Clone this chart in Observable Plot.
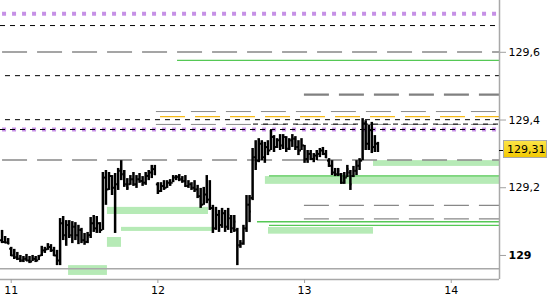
<!DOCTYPE html>
<html><head><meta charset="utf-8">
<script src="https://cdn.jsdelivr.net/npm/d3@7"></script>
<script src="https://cdn.jsdelivr.net/npm/@observablehq/plot@0.6"></script>
<style>html,body{margin:0;padding:0;background:#fff}#chart{width:550px;height:300px}</style>
</head><body><div id="chart"></div>
<script>
// ---- axis ticks ----
const dayTicks = [11, 12, 13, 14];
const priceTicks = [129.2, 129.4, 129.6];
const priceTicksBold = [129];
const xMin = 10.927, xMax = 14.329;
const yMin = 128.929, yMax = 129.753;

// ---- 30-minute OHLC bars ----
const firstBar = 10.9375;
const barMinutes = 30;
const hi = [
129.074,129.056,129.050,129.024,129.018,129.009,129.000,128.997,129.003,128.997,
129.000,128.997,129.000,129.027,129.024,129.035,129.032,129.024,129.015,129.109,
129.115,129.103,129.103,129.100,129.097,129.089,129.080,129.065,129.068,129.112,
129.118,129.115,129.097,129.245,129.251,129.245,129.236,129.242,129.257,129.280,
129.251,129.227,129.236,129.245,129.236,129.242,129.233,129.245,129.251,129.266,
129.266,129.215,129.215,129.221,129.221,129.224,129.236,129.236,129.239,129.233,
129.236,129.221,129.215,129.221,129.207,129.198,129.201,129.236,129.221,129.148,
129.142,129.133,129.139,129.133,129.139,129.118,129.118,129.080,129.044,129.089,
129.177,129.177,129.316,129.339,129.345,129.339,129.334,129.339,129.369,129.354,
129.345,129.357,129.357,129.351,129.345,129.357,129.351,129.339,129.345,129.325,
129.310,129.310,129.301,129.310,129.316,129.319,129.310,129.286,129.280,129.257,
129.257,129.242,129.245,129.266,129.251,129.263,129.280,129.286,129.404,129.398,
129.384,129.393,129.354,129.334];
const lo = [
129.035,129.035,129.032,128.997,128.988,128.985,128.979,128.979,128.982,128.976,
128.982,128.979,128.985,128.997,129.006,129.015,129.009,128.997,128.970,128.970,
129.044,129.027,129.050,129.035,129.044,129.032,129.035,129.030,129.035,129.050,
129.068,129.065,129.065,129.074,129.148,129.192,129.177,129.065,129.192,129.221,
129.201,129.192,129.207,129.204,129.198,129.213,129.204,129.207,129.221,129.227,
129.236,129.180,129.186,129.192,129.198,129.204,129.215,129.221,129.218,129.213,
129.201,129.198,129.192,129.186,129.168,129.139,129.148,129.153,129.133,129.065,
129.074,129.068,129.080,129.068,129.074,129.065,129.068,128.970,129.021,129.030,
129.068,129.097,129.162,129.251,129.274,129.280,129.272,129.295,129.310,129.304,
129.316,129.310,129.313,129.304,129.310,129.319,129.310,129.295,129.310,129.272,
129.272,129.280,129.274,129.280,129.289,129.295,129.286,129.260,129.236,129.233,
129.233,129.210,129.210,129.230,129.192,129.230,129.236,129.251,129.280,129.310,
129.310,129.301,129.304,129.304];
const op = [
129.045,129.040,129.038,129.020,129.000,128.995,128.990,128.985,128.990,128.985,
128.982,128.990,128.985,129.000,129.015,129.018,129.025,129.015,129.000,128.985,
129.095,129.060,129.090,129.060,129.085,129.060,129.075,129.045,129.040,129.060,
129.095,129.080,129.095,129.075,129.230,129.195,129.235,129.200,129.210,129.250,
129.240,129.210,129.210,129.225,129.210,129.225,129.220,129.215,129.235,129.245,
129.255,129.210,129.190,129.205,129.200,129.215,129.215,129.230,129.232,129.225,
129.220,129.205,129.210,129.200,129.195,129.175,129.150,129.180,129.165,129.140,
129.080,129.120,129.090,129.125,129.085,129.110,129.080,129.075,129.030,129.035,
129.080,129.150,129.170,129.290,129.280,129.330,129.290,129.320,129.310,129.350,
129.320,129.340,129.325,129.350,129.315,129.340,129.345,129.320,129.310,129.325,
129.285,129.300,129.285,129.295,129.300,129.310,129.300,129.280,129.265,129.245,
129.240,129.240,129.215,129.230,129.245,129.235,129.250,129.265,129.280,129.390,
129.330,129.370,129.320,129.330];
const cl = [
129.040,129.038,129.035,129.000,128.995,128.990,128.985,128.990,128.985,128.982,
128.990,128.985,128.995,129.015,129.012,129.025,129.015,129.000,128.985,129.095,
129.060,129.090,129.060,129.085,129.060,129.075,129.045,129.040,129.060,129.095,
129.080,129.100,129.075,129.230,129.190,129.235,129.200,129.210,129.250,129.240,
129.210,129.200,129.225,129.210,129.225,129.220,129.215,129.235,129.245,129.255,
129.240,129.190,129.205,129.200,129.215,129.210,129.230,129.232,129.225,129.220,
129.205,129.210,129.200,129.195,129.175,129.150,129.180,129.165,129.140,129.080,
129.120,129.090,129.125,129.085,129.120,129.080,129.100,129.030,129.035,129.080,
129.150,129.130,129.290,129.270,129.330,129.290,129.320,129.310,129.355,129.320,
129.340,129.325,129.350,129.315,129.340,129.345,129.320,129.310,129.325,129.285,
129.300,129.285,129.295,129.300,129.310,129.300,129.290,129.265,129.245,129.240,
129.250,129.215,129.230,129.255,129.210,129.250,129.265,129.280,129.390,129.330,
129.370,129.320,129.340,129.310];
const lastLabel = "129,31";

// ---- horizontal levels (price, start day) ----
const purpleLevels = [129.714, 129.372];
const purpleStarts = [10.941, 10.941];
const blackDashLevels = [129.679, 129.531, 129.401, 129.388, 129.372];
const blackDashStarts = [10.927, 10.961, 10.961, 12.652, 10.927];
const grayLongLevels = [129.601, 129.282, 129.148, 129.108];
const grayLongStarts = [10.941, 10.941, 12.999, 12.999];
const grayThickLevels = [129.475];
const grayThickStarts = [12.999];
const grayThinLevels = [129.425, 129.387];
const grayThinStarts = [11.990, 11.990];
const orangeLevels = [129.410];
const orangeStarts = [12.018];
const greenLevels = [129.576, 129.235, 129.0995, 129.0886];
const greenStarts = [12.134, 12.761, 12.679, 12.761];
const graySolidLevels = [128.961];
const graySolidStarts = [10.927];

// ---- green zones ----
const zoneStart = [11.656, 11.752, 11.656, 11.391, 13.470, 12.733, 12.754];
const zoneEnd   = [12.345, 12.372, 11.752, 11.656, 14.329, 14.329, 13.470];
const zoneTop   = [129.142, 129.083, 129.053, 128.970, 129.280, 129.233, 129.0826];
const zoneBottom= [129.121, 129.071, 129.024, 128.941, 129.263, 129.210, 129.0629];

const barStep = barMinutes / 1440;
const bars = hi.map((h, i) => ({t: firstBar + i * barStep, hi: h, lo: lo[i], o: op[i], c: cl[i]}));
const lastClose = cl[cl.length - 1];
const seg = (levels, starts) => levels.map((v, i) => ({y: v, x1: starts[i], x2: xMax}));
const zones = zoneStart.map((s, i) => ({x1: s, x2: zoneEnd[i], y1: zoneBottom[i], y2: zoneTop[i]}));
const fmt = d => d.toFixed(1).replace(".", ",");

function priceLabel(index, scales, values, dims) {
  const y = Math.round(scales.y(lastClose));
  const x0 = dims.width - dims.marginRight;
  const g = d3.create("svg:g");
  const grad = g.append("defs").append("linearGradient").attr("id", "lbl").attr("x1", 0).attr("x2", 0).attr("y1", 0).attr("y2", 1);
  grad.append("stop").attr("offset", "0%").attr("stop-color", "#fde54a");
  grad.append("stop").attr("offset", "100%").attr("stop-color", "#f2c800");
  g.append("line").attr("x1", x0).attr("x2", x0 + 4).attr("y1", y + 0.5).attr("y2", y + 0.5).attr("stroke", "black");
  g.append("rect").attr("x", x0 + 4.5).attr("y", y - 9.5).attr("width", 43).attr("height", 17)
    .attr("fill", "url(#lbl)").attr("stroke", "#a8a8a8");
  g.append("text").attr("x", x0 + 8).attr("y", y - 1).attr("dy", "0.35em")
    .attr("text-anchor", "start").attr("font-size", 11).attr("fill", "black").text(lastLabel);
  return g.node();
}

const chart = Plot.plot({
  width: 550, height: 300,
  marginLeft: 0, marginRight: 51, marginTop: 0, marginBottom: 21,
  style: {fontFamily: "DejaVu Sans", fontSize: "11px", background: "white", overflow: "visible"},
  x: {domain: [xMin, xMax], axis: null},
  y: {domain: [yMin, yMax], axis: null},
  marks: [
    Plot.rect(zones, {x1: "x1", x2: "x2", y1: "y1", y2: "y2", fill: "#b6eab6"}),
    Plot.ruleY(seg(graySolidLevels, graySolidStarts), {y: "y", x1: "x1", x2: "x2", stroke: "#a8a8a8", strokeWidth: 1.5}),
    Plot.ruleY(seg(greenLevels, greenStarts), {y: "y", x1: "x1", x2: "x2", stroke: "#55c855", strokeWidth: 1.3}),
    Plot.ruleY(seg(grayLongLevels, grayLongStarts), {y: "y", x1: "x1", x2: "x2", stroke: "#888", strokeWidth: 1.4, strokeDasharray: "25,10"}),
    Plot.ruleY(seg(grayThickLevels, grayThickStarts), {y: "y", x1: "x1", x2: "x2", stroke: "#808080", strokeWidth: 2.4, strokeDasharray: "25,10"}),
    Plot.ruleY(seg(grayThinLevels, grayThinStarts), {y: "y", x1: "x1", x2: "x2", stroke: "#8a8a8a", strokeWidth: 1, strokeDasharray: "25,10"}),
    Plot.ruleY(seg(orangeLevels, orangeStarts), {y: "y", x1: "x1", x2: "x2", stroke: "#f5b915", strokeWidth: 1.4, strokeDasharray: "25,10"}),
    Plot.ruleY(seg(purpleLevels, purpleStarts), {y: "y", x1: "x1", x2: "x2", stroke: "#c690e6", strokeWidth: 4, strokeDasharray: "4,6"}),
    Plot.ruleY(seg(blackDashLevels, blackDashStarts), {y: "y", x1: "x1", x2: "x2", stroke: "black", strokeWidth: 1, strokeDasharray: "5,5"}),
    Plot.ruleX(bars, {x: "t", y1: "lo", y2: "hi", stroke: "black", strokeWidth: 2.5}),
    Plot.ruleY(bars, {y: "o", x1: d => d.t - barStep / 2, x2: "t", stroke: "black", strokeWidth: 2}),
    Plot.ruleY(bars, {y: "c", x1: "t", x2: d => d.t + barStep / 2, stroke: "black", strokeWidth: 2}),
    Plot.ruleX([xMax], {stroke: "#a8a8a8", strokeWidth: 1.5}),
    Plot.ruleY([yMin], {stroke: "#a8a8a8", strokeWidth: 1.5}),
    Plot.axisX(dayTicks, {anchor: "bottom", tickSize: 4, tickPadding: 3, stroke: "#a0a0a0", fill: "black", tickFormat: d => String(d)}),
    Plot.axisY(priceTicks, {anchor: "right", tickSize: 6, tickPadding: 3, stroke: "#a0a0a0", fill: "black", tickFormat: fmt}),
    Plot.axisY(priceTicksBold, {anchor: "right", tickSize: 6, tickPadding: 3, stroke: "#a0a0a0", fill: "black", fontWeight: "bold", tickFormat: d => String(d)}),
    priceLabel
  ]
});
document.getElementById("chart").append(chart);
</script>
</body></html>
